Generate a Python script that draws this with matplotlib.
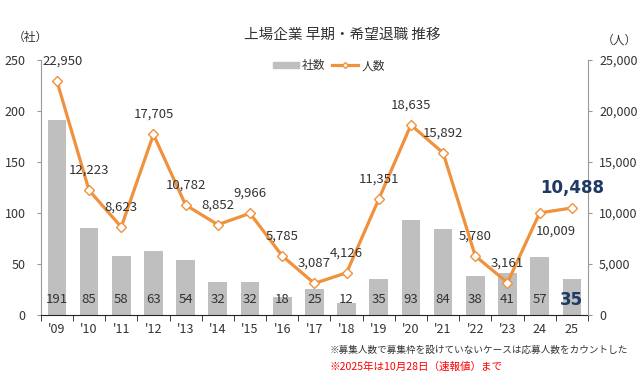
import numpy as np
import matplotlib.pyplot as plt
from matplotlib.lines import Line2D
from matplotlib.patches import Patch

plt.rcParams['font.family'] = ['Noto Sans CJK JP', 'DejaVu Sans']

# data
years = ["'09", "'10", "'11", "'12", "'13", "'14", "'15", "'16", "'17",
         "'18", "'19", "'20", "'21", "'22", "'23", "24", "25"]
companies = [191, 85, 58, 63, 54, 32, 32, 18, 25, 12, 35, 93, 84, 38, 41, 57, 35]
people = [22950, 12223, 8623, 17705, 10782, 8852, 9966, 5785, 3087, 4126,
          11351, 18635, 15892, 5780, 3161, 10009, 10488]

txt = '#333333'
bar_c = '#bfbfbf'
line_c = '#f0913d'
navy = '#1f3864'

fig = plt.figure(figsize=(6.37, 3.78), dpi=100)
ax = fig.add_axes([0.064, 0.167, 0.859, 0.674])
ax2 = ax.twinx()

x = np.arange(len(years))
ax.bar(x, companies, width=0.58, color=bar_c, zorder=1)
for i, v in enumerate(companies):
    if i == len(companies) - 1:
        ax.text(i, 15, str(v), ha='center', va='center', fontsize=12,
                fontweight='bold', color=navy, family='DejaVu Sans')
    else:
        ax.text(i, 15, str(v), ha='center', va='center', fontsize=9.5, color=txt)

ax.set_xlim(-0.5, len(years) - 0.5)
ax.set_ylim(0, 250)
ax.set_yticks(range(0, 251, 50))
ax.set_xticks(x)
ax.set_xticklabels(years)
ax.set_xticks(np.arange(-0.5, len(years), 1), minor=True)
ax.tick_params(axis='x', which='major', length=0, pad=6, labelsize=9, labelcolor=txt)
ax.tick_params(axis='x', which='minor', length=4, color='#222222')
ax.tick_params(axis='y', length=3, color='#999999', labelsize=9, labelcolor=txt, pad=8)

ax2.plot(x, people, color=line_c, lw=2.3, marker='D', ms=5.5,
         mfc='white', mec=line_c, mew=1, zorder=3)
ax2.set_ylim(0, 25000)
ax2.set_yticks(range(0, 25001, 5000))
ax2.set_yticklabels([f'{v:,}' for v in range(0, 25001, 5000)])
ax2.tick_params(axis='y', length=3, color='#999999', labelsize=9, labelcolor=txt, pad=5)

for i, v in enumerate(people):
    if i == len(people) - 1:
        ax2.annotate(f'{v:,}', (i, v), xytext=(0, 14.4), textcoords='offset points',
                     ha='center', va='center', fontsize=12, fontweight='bold',
                     color=navy, family='DejaVu Sans')
    elif i == len(people) - 2:
        ax2.annotate(f'{v:,}', (i, v), xytext=(12, -13.5), textcoords='offset points',
                     ha='center', va='center', fontsize=9.5, color=txt)
    else:
        dx = 4.3 if i == 0 else 0
        ax2.annotate(f'{v:,}', (i, v), xytext=(dx, 14.4), textcoords='offset points',
                     ha='center', va='center', fontsize=9.5, color=txt)

for a in (ax, ax2):
    a.spines['top'].set_visible(False)
    a.spines['left'].set_color('#999999')
    a.spines['right'].set_color('#999999')
    a.spines['bottom'].set_color('#222222')
ax.spines['right'].set_visible(False)
ax2.spines['left'].set_visible(False)
ax2.spines['bottom'].set_visible(False)

fig.text(0.537, 0.907, '上場企業 早期・希望退職 推移', ha='center', va='center',
         fontsize=10.5, color=txt)
fig.text(0.047, 0.9, '（社）', ha='center', va='center', fontsize=8.5, color=txt)
fig.text(0.972, 0.893, '（人）', ha='center', va='center', fontsize=8.5, color=txt)

handles = [Patch(color=bar_c, label='社数'),
           Line2D([], [], color=line_c, lw=2.3, marker='D', ms=3,
                  mfc='white', mec=line_c, label='人数')]
fig.legend(handles=handles, loc='center', bbox_to_anchor=(0.516, 0.826), ncol=2,
           frameon=False, fontsize=8.5, handlelength=2.2, handleheight=0.5,
           columnspacing=0.5, handletextpad=0.3, labelcolor=txt)

fig.text(0.518, 0.074, '※募集人数で募集枠を設けていないケースは応募人数をカウントした',
         ha='left', va='center', fontsize=6.9, color=txt)
fig.text(0.518, 0.029, '※2025年は10月28日（速報値）まで', ha='left', va='center',
         fontsize=7.6, color='#ff0000')

fig.savefig('out.png', dpi=100)
